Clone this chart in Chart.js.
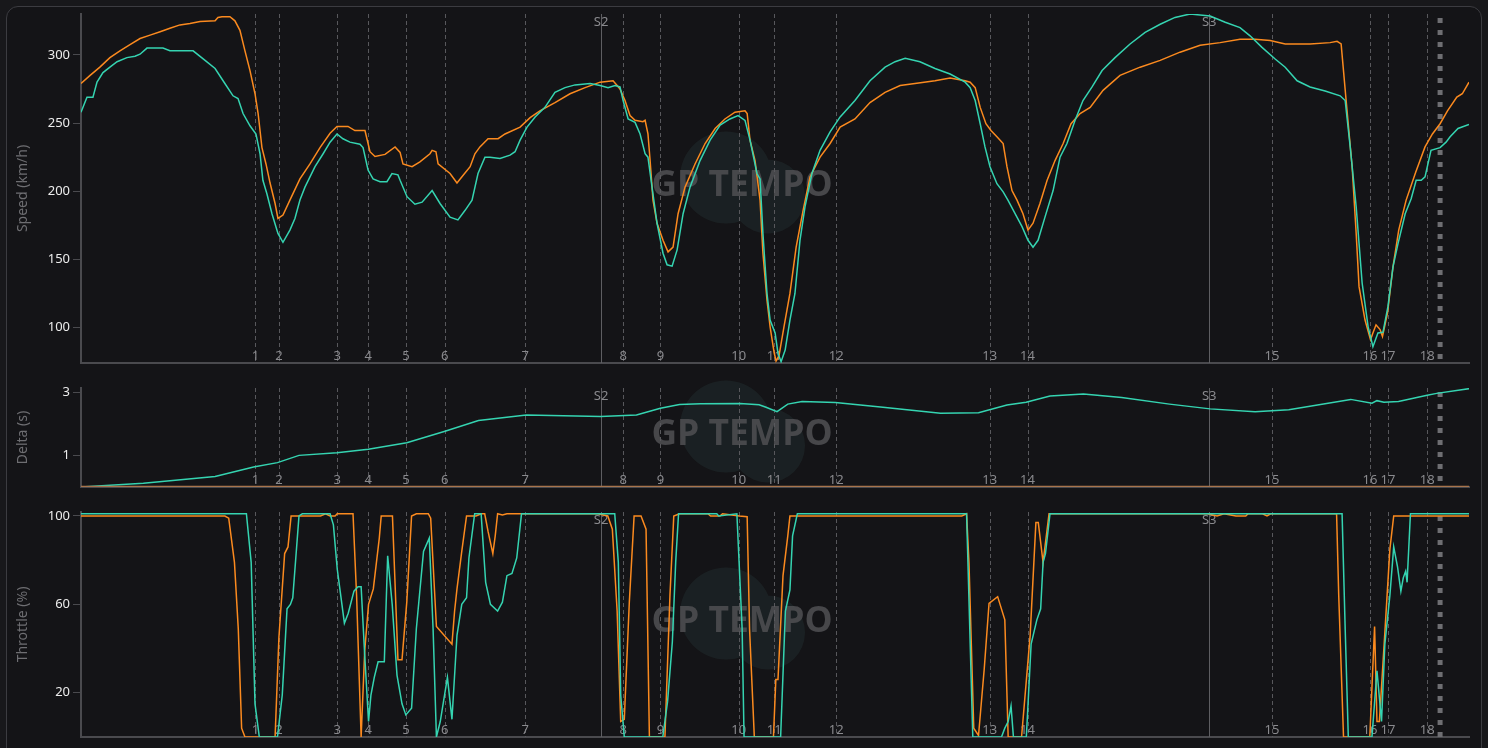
<!DOCTYPE html>
<html>
<head>
<meta charset="utf-8">
<script src="https://cdn.jsdelivr.net/npm/chart.js@4.4.1/dist/chart.umd.min.js"></script>
<style>
  body { margin: 0; background: #18181b; width: 1488px; height: 748px; overflow: hidden; position: relative; }
  #card { position: absolute; left: 6px; top: 6px; width: 1474px; height: 780px; border: 1px solid #3c3c41; border-radius: 12px; background: #141417; }
  canvas { position: absolute; left: 0; }
</style>
</head>
<body>
<div id="card"></div>
<canvas id="speed" width="1488" height="375" style="top:0px"></canvas>
<canvas id="delta" width="1488" height="125" style="top:375px"></canvas>
<canvas id="throttle" width="1488" height="248" style="top:500px"></canvas>
<script>
// lap distance in metres
const lapLength = 5807;

const cornerNames = ["1","2","3","4","5","6","7","8","9","10","11","12","13","14","15","16","17","18"];
const cornerDist = [730, 828, 1072, 1202, 1360, 1522, 1858, 2268, 2424, 2752, 2900, 3160, 3802, 3960, 4983, 5393, 5468, 5632];
const sectorNames = ["S2", "S3"];
const sectorDist = [2176, 4720];
const finishDist = 5686;

const speedTicks = [100, 150, 200, 250, 300];
const deltaTicks = [1, 3];
const throttleTicks = [20, 60, 100];

// [distance, km/h]
const speedOrange = [[0,279],[38,285],[79,291],[121,298],[163,303],[205,307.5],[247,312],[289,314.5],[331,317],[372,319.5],[414,322],[456,323],[498,324.5],[561,325],[573,327.5],[590,328],[623,328],[644,325],[665,318],[686,303],[707,288.5],[728,271.5],[741,257],[757,232],[774,220],[791,206],[812,191],[824,180],[845,182.5],[874,193.5],[916,209],[958,220],[1000,232],[1042,242.5],[1071,247.5],[1117,247.5],[1146,244.5],[1188,244.5],[1201,235],[1209,229],[1230,225.5],[1272,227],[1314,232.5],[1335,228.5],[1347,220],[1385,218],[1418,221.5],[1460,227.5],[1469,230],[1485,229],[1494,220],[1544,213],[1573,206],[1598,211.5],[1628,218],[1648,227.5],[1669,232.5],[1703,238.5],[1745,238.5],[1774,242],[1837,247],[1879,254],[1920,259],[1983,265],[2046,271.5],[2109,276],[2172,280],[2226,281],[2243,277.5],[2255,275],[2276,266.5],[2297,255.5],[2318,252],[2351,251],[2360,252],[2372,242],[2381,222.5],[2393,193.5],[2410,176.5],[2435,164],[2456,155.5],[2477,159],[2498,183.5],[2527,203],[2569,220],[2611,235],[2653,246],[2694,253],[2736,258],[2778,259],[2787,257],[2799,237.5],[2820,222.5],[2841,193.5],[2853,154.5],[2870,120],[2883,100.5],[2900,81.5],[2908,75.5],[2920,79],[2941,100.5],[2966,125],[2992,159],[3021,186],[3050,210.5],[3092,225],[3134,235],[3176,247],[3238,253],[3301,265],[3364,272.5],[3427,277.5],[3489,279],[3573,281],[3636,283],[3699,281],[3720,280],[3741,276],[3762,261.5],[3786,249.5],[3807,244.5],[3832,240],[3858,235],[3874,218],[3895,200.5],[3916,193.5],[3941,183.5],[3962,171.5],[3983,176.5],[4012,191],[4042,208],[4075,222.5],[4109,235],[4142,249.5],[4180,257],[4222,261.5],[4276,274],[4347,285],[4431,291],[4515,296],[4598,302],[4682,307],[4766,309],[4849,311.5],[4912,311.5],[4975,310.5],[5038,308],[5142,308],[5226,309],[5255,310],[5272,308],[5293,266.5],[5318,218],[5335,169],[5347,130],[5372,105.5],[5395,91],[5405,96],[5418,102],[5435,98.5],[5445,93.5],[5466,110.5],[5489,144.5],[5513,171.5],[5544,193.5],[5584,214],[5623,232.5],[5654,242],[5686,249.5],[5717,259],[5756,269],[5779,271.5],[5807,280]];

const speedTeal = [[0,258],[25,269],[50,269],[67,280],[92,287],[121,291],[151,295],[192,298],[226,299],[247,300.5],[276,305],[343,305],[372,303],[469,303],[519,296],[561,290],[602,279],[636,270],[657,268],[678,257],[707,248],[732,242],[749,227.5],[761,208],[778,198],[799,183.5],[824,169],[845,162.5],[874,171.5],[895,180],[916,193.5],[937,203],[979,218],[1013,227.5],[1042,236],[1071,242],[1096,238.5],[1125,236],[1167,234.5],[1180,232],[1201,215.5],[1222,209],[1251,207],[1280,207],[1301,213],[1326,212],[1335,208],[1364,196],[1397,190.5],[1427,192],[1469,200.5],[1502,191],[1544,181],[1577,179],[1607,186],[1636,193.5],[1661,213],[1690,225],[1711,225],[1753,224],[1795,226.5],[1816,229],[1837,237.5],[1866,247],[1900,254.5],[1941,261.5],[1983,272.5],[2025,276],[2067,278],[2130,279],[2172,277.5],[2205,276],[2234,277.5],[2255,276.5],[2268,266.5],[2289,253],[2318,250.5],[2339,242],[2360,227.5],[2372,225],[2389,203],[2410,176.5],[2435,154.5],[2452,146],[2473,145],[2494,157],[2519,183.5],[2548,203],[2590,222.5],[2632,237.5],[2674,248.5],[2715,253],[2749,255.5],[2778,252],[2799,237.5],[2828,213],[2841,209],[2853,169],[2870,125],[2883,105.5],[2904,96],[2916,81],[2929,75],[2946,83.5],[2966,105.5],[2987,125],[3008,164],[3029,188.5],[3058,213],[3092,230],[3134,243.5],[3176,254.5],[3238,266.5],[3301,281],[3364,291],[3406,295],[3448,297.5],[3510,295],[3573,290],[3636,286],[3699,280],[3720,276],[3741,266.5],[3762,249.5],[3782,232.5],[3803,218],[3832,205.5],[3858,199.5],[3878,193.5],[3908,183.5],[3937,174],[3962,164],[3983,159],[4004,164],[4033,181],[4067,200.5],[4096,225],[4125,235],[4159,252],[4192,266.5],[4230,276.5],[4272,288.5],[4326,298],[4389,308],[4452,316.5],[4515,322.5],[4577,327.5],[4640,330],[4724,328.5],[4787,324],[4849,320],[4891,314],[4941,305.5],[4996,297],[5038,291],[5088,281],[5142,276.5],[5205,273.5],[5268,270],[5289,266.5],[5310,232.5],[5335,188.5],[5360,132.5],[5385,100.5],[5405,86],[5426,96],[5447,96.5],[5468,115.5],[5489,144.5],[5510,161.5],[5540,183.5],[5565,194.5],[5586,208],[5607,208],[5623,210.5],[5648,230],[5686,232],[5711,236],[5728,240],[5761,246],[5807,249]];

// [distance, seconds]
const deltaOrange = [[0,0],[5807,0]];
const deltaTeal = [[0,0],[261,0.12],[561,0.33],[722,0.63],[822,0.77],[912,1.0],[1071,1.08],[1202,1.19],[1363,1.4],[1523,1.76],[1663,2.1],[1863,2.28],[2174,2.23],[2324,2.28],[2424,2.49],[2504,2.61],[2592,2.63],[2757,2.64],[2837,2.6],[2866,2.52],[2912,2.38],[2957,2.62],[3017,2.7],[3156,2.67],[3355,2.52],[3596,2.33],[3755,2.35],[3874,2.59],[3954,2.68],[4054,2.88],[4194,2.94],[4354,2.83],[4554,2.62],[4724,2.47],[4912,2.38],[5053,2.44],[5312,2.77],[5401,2.65],[5422,2.73],[5451,2.68],[5512,2.7],[5632,2.9],[5672,2.96],[5807,3.11]];

// [distance, %]
const throttleOrange = [[0,100],[602,100],[618,99],[642,79],[658,49],[672,4],[686,0],[812,0],[828,45],[852,83],[866,86],[879,100],[1002,100],[1023,101],[1042,100],[1063,100],[1072,101],[1138,101],[1153,64],[1172,0],[1187,39],[1203,60],[1223,67],[1248,90],[1256,100],[1303,100],[1313,72],[1326,35],[1343,35],[1363,61],[1383,100],[1403,101],[1453,101],[1463,99],[1487,50],[1552,42],[1563,57],[1573,67],[1593,84],[1613,100],[1653,100],[1674,101],[1689,101],[1703,93],[1723,83],[1733,91],[1743,101],[1763,100.5],[1782,101],[2163,101],[2204,100],[2223,94],[2243,57],[2258,7],[2273,8],[2294,61],[2314,100],[2343,100],[2364,94],[2378,0],[2443,0],[2464,64],[2480,100],[2504,101],[2623,101],[2634,100],[2673,100],[2684,101],[2754,100],[2787,99.7],[2797,49],[2817,0],[2897,0],[2907,26],[2916,26],[2937,73],[2957,91],[2966,100],[3685,100],[3705,101],[3715,79],[3735,4],[3755,0.7],[3779,31],[3799,60.5],[3835,63.5],[3865,53],[3879,0],[3935,0],[3971,46],[3995,97],[4005,97],[4025,79],[4050,101],[4713,101],[4753,100],[4782,101],[4832,100],[4873,100],[4883,101],[4943,101],[4962,100],[4977,101],[5253,101],[5262,64],[5282,0],[5392,0],[5412,50],[5422,7],[5432,7],[5452,42],[5476,85],[5492,100],[5807,100]];

const throttleTeal = [[0,101],[692,101],[712,79],[728,15],[746,0],[822,0],[842,19],[862,58],[876,60],[886,63],[912,100],[926,101],[1042,101],[1056,96],[1072,76],[1102,51.5],[1118,56],[1142,66],[1159,68],[1172,68],[1187,37],[1203,7],[1213,19],[1227,27],[1243,34],[1269,34],[1283,82],[1302,60],[1322,28],[1343,15],[1359,10],[1383,13],[1403,49],[1433,84],[1457,90],[1473,49],[1487,0],[1503,7],[1533,27],[1552,8],[1573,46],[1593,60],[1613,63],[1623,81],[1647,101],[1674,101],[1693,70],[1713,60],[1743,57],[1763,61],[1782,73],[1803,74],[1823,81],[1843,101],[2233,101],[2248,79],[2258,19],[2273,0],[2434,0],[2454,16],[2474,43],[2488,79],[2500,101],[2660,101],[2668,100],[2744,101],[2766,49],[2774,0],[2927,0],[2947,57],[2966,66.5],[2977,91],[2997,101],[3705,101],[3731,0],[3851,0],[3865,4],[3879,7],[3891,14],[3901,0],[3955,0],[3975,42],[3999,53],[4015,58],[4025,79],[4035,83],[4054,101],[5276,101],[5289,49],[5302,0],[5401,0],[5422,30],[5441,7],[5455,42],[5476,64],[5492,86],[5508,77],[5522,66],[5532,72],[5542,75],[5548,70],[5562,101],[5807,101]];

const orange = "#fb8a1f";
const teal = "#35d4b1";

function pts(arr) {
  return arr.map(p => ({ x: p[0], y: p[1] }));
}

// corner / sector markers and the watermark, drawn under the traces
const trackMarks = {
  id: "trackMarks",
  beforeDatasetsDraw(chart) {
    const ctx = chart.ctx;
    const a = chart.chartArea;
    const x = chart.scales.x;
    ctx.save();

    // watermark
    const cx = 744, cy = (a.top + a.bottom) / 2 - 4;
    ctx.fillStyle = "rgba(43,63,63,0.3)";
    ctx.beginPath();
    ctx.arc(cx - 18, cy - 7, 46, 0, Math.PI * 2);
    ctx.moveTo(cx + 24 + 37, cy + 12);
    ctx.arc(cx + 24, cy + 12, 37, 0, Math.PI * 2);
    ctx.fill();
    ctx.font = "bold 40px 'Open Sans'";
    const w = ctx.measureText("GP TEMPO").width;
    ctx.font = "bold " + (40 * 181 / w).toFixed(1) + "px 'Open Sans'";
    ctx.fillStyle = "rgba(80,80,84,0.85)";
    ctx.textAlign = "center";
    ctx.textBaseline = "middle";
    ctx.fillText("GP TEMPO", cx - 2, cy + 1);

    // corners
    ctx.lineWidth = 1;
    ctx.strokeStyle = "#58585c";
    ctx.setLineDash([4, 3]);
    cornerDist.forEach(d => {
      const px = Math.round(x.getPixelForValue(d)) + 0.5;
      ctx.beginPath();
      ctx.moveTo(px, a.top);
      ctx.lineTo(px, a.bottom);
      ctx.stroke();
    });
    // sectors
    ctx.setLineDash([]);
    ctx.strokeStyle = "#5e5e62";
    sectorDist.forEach(d => {
      const px = Math.round(x.getPixelForValue(d)) + 0.5;
      ctx.beginPath();
      ctx.moveTo(px, a.top);
      ctx.lineTo(px, a.bottom);
      ctx.stroke();
    });
    // finish
    ctx.strokeStyle = "#6e6e72";
    ctx.lineWidth = 5;
    ctx.setLineDash([5, 7]);
    const fx = x.getPixelForValue(finishDist);
    ctx.beginPath();
    ctx.moveTo(fx, a.top + 4);
    ctx.lineTo(fx, a.bottom);
    ctx.stroke();
    ctx.setLineDash([]);

    // labels
    ctx.font = "13px 'Noto Sans'";
    ctx.fillStyle = "#8a8a8e";
    ctx.textAlign = "center";
    ctx.textBaseline = "middle";
    cornerDist.forEach((d, i) => {
      ctx.fillText(cornerNames[i], x.getPixelForValue(d), a.bottom - 7);
    });
    sectorDist.forEach((d, i) => {
      ctx.fillText(sectorNames[i], x.getPixelForValue(d), a.top + 8);
    });
    ctx.restore();
  }
};

function makeChart(id, datasets, title, min, max, ticks, pad) {
  return new Chart(document.getElementById(id), {
    type: "line",
    data: { datasets: datasets },
    options: {
      responsive: false,
      animation: false,
      devicePixelRatio: 1,
      layout: { padding: pad },
      plugins: { legend: { display: false }, tooltip: { enabled: false } },
      elements: { point: { radius: 0 }, line: { borderWidth: 1.5, tension: 0 } },
      scales: {
        x: {
          type: "linear",
          min: 0,
          max: lapLength,
          ticks: { display: false },
          grid: { display: false, drawTicks: false },
          border: { display: true, color: "#4a4a4e", width: 2 },
          afterFit(s) { s.height = 0; }
        },
        y: {
          min: min,
          max: max,
          afterBuildTicks(axis) { axis.ticks = ticks.map(v => ({ value: v })); },
          afterFit(s) { s.width = 67; },
          ticks: { color: "#ececec", padding: 3, font: { family: "Noto Sans", size: 13 } },
          grid: { drawOnChartArea: false, drawTicks: true, tickLength: 8, color: "#4a4a4e" },
          border: { display: true, color: "#4a4a4e", width: 2 },
          title: { display: true, text: title, color: "#6e6e72", padding: { top: 1, bottom: 1 }, font: { family: "Noto Sans", size: 14 } }
        }
      }
    },
    plugins: [trackMarks]
  });
}

makeChart("speed", [
  { data: pts(speedTeal), borderColor: teal },
  { data: pts(speedOrange), borderColor: orange }
], "Speed (km/h)", 74, 330, speedTicks, { left: 14, right: 19, top: 14, bottom: 12 });

makeChart("delta", [
  { data: pts(deltaOrange), borderColor: "#a8744c", borderWidth: 2.5 },
  { data: pts(deltaTeal), borderColor: teal }
], "Delta (s)", 0, 3.13, deltaTicks, { left: 14, right: 19, top: 13, bottom: 13 });

makeChart("throttle", [
  { data: pts(throttleTeal), borderColor: teal },
  { data: pts(throttleOrange), borderColor: orange }
], "Throttle (%)", 0, 101.8, throttleTicks, { left: 14, right: 19, top: 12, bottom: 11 });
</script>
</body>
</html>
